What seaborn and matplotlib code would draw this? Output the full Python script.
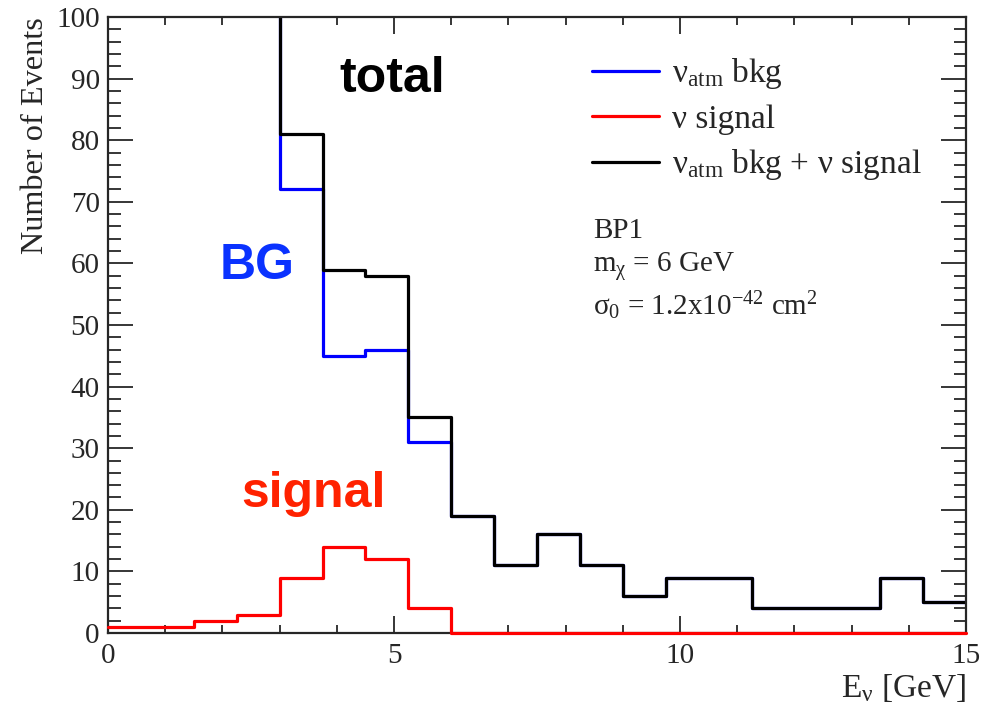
import numpy as np
import pandas as pd
import seaborn as sns
import matplotlib
matplotlib.use("Agg")
import matplotlib.pyplot as plt
from matplotlib.ticker import MultipleLocator

# Energy bins (GeV) and event counts per bin
bin_edges = [0.0, 0.75, 1.5, 2.25, 3.0, 3.75, 4.5, 5.25, 6.0, 6.75, 7.5,
             8.25, 9.0, 9.75, 10.5, 11.25, 12.0, 12.75, 13.5, 14.25, 15.0]
bkg_counts = [180, 160, 140, 120, 72, 45, 46, 31, 19, 11, 16,
              11, 6, 9, 9, 4, 4, 4, 9, 5]
signal_counts = [1, 1, 2, 3, 9, 14, 12, 4, 0, 0, 0,
                 0, 0, 0, 0, 0, 0, 0, 0, 0]
total_counts = [b + s for b, s in zip(bkg_counts, signal_counts)]

centers = [(a + b) / 2 for a, b in zip(bin_edges[:-1], bin_edges[1:])]
df = pd.DataFrame({"E": centers, "bkg": bkg_counts,
                   "sig": signal_counts, "tot": total_counts})

sns.set_style("ticks")
plt.rcParams["font.family"] = ["Liberation Serif", "DejaVu Serif"]
plt.rcParams["mathtext.fontset"] = "custom"
plt.rcParams["mathtext.rm"] = "Liberation Serif"
plt.rcParams["mathtext.it"] = "Liberation Serif:italic"
plt.rcParams["mathtext.default"] = "rm"

fig = plt.figure(figsize=(9.96, 7.07), dpi=100)
ax = fig.add_axes([108 / 996, 74 / 707, 858 / 996, 616 / 707])

lw = 2.3
sns.histplot(data=df, x="E", weights="bkg", bins=bin_edges, element="step",
             fill=False, color="#0000ff", linewidth=lw, ax=ax,
             label="ν$_{atm}$ bkg")
sns.histplot(data=df, x="E", weights="sig", bins=bin_edges, element="step",
             fill=False, color="#ff0000", linewidth=lw, ax=ax,
             label="ν signal")
sns.histplot(data=df, x="E", weights="tot", bins=bin_edges, element="step",
             fill=False, color="#000000", linewidth=lw, ax=ax,
             label="ν$_{atm}$ bkg + ν signal")

# keep the zero-level signal line visible on top of the axis
sig_line = ax.lines[1]
sig_line.set_clip_on(False)
sig_line.set_zorder(5)

ax.set_xlim(0, 15)
ax.set_ylim(0, 100)
ax.xaxis.set_major_locator(MultipleLocator(5))
ax.xaxis.set_minor_locator(MultipleLocator(1))
ax.yaxis.set_major_locator(MultipleLocator(10))
ax.yaxis.set_minor_locator(MultipleLocator(2))
ax.tick_params(which="both", direction="in", top=True, right=True,
               labelsize=21, width=1.3)
ax.tick_params(axis="x", which="major", length=12, pad=7)
ax.tick_params(axis="x", which="minor", length=6)
ax.tick_params(axis="y", which="major", length=18, pad=6)
ax.tick_params(axis="y", which="minor", length=9)
for s in ax.spines.values():
    s.set_linewidth(1.6)
    s.set_visible(True)

ax.set_xlabel("E$_{ν}$ [GeV]", fontsize=24, loc="right", labelpad=2)
ax.set_ylabel("Number of Events", fontsize=23.2, loc="top", labelpad=4)

leg = ax.legend(loc="upper left", bbox_to_anchor=(0.564, 0.936), frameon=False,
                fontsize=24, handlelength=2.0, handletextpad=0.4,
                labelspacing=0.38, borderpad=0, borderaxespad=0)

ax.text(8.48, 67.3, "BP1\nm$_{χ}$ = 6 GeV\nσ$_{0}$ = 1.2x10$^{-42}$ cm$^{2}$",
        fontsize=21, va="top", ha="left", linespacing=1.25)

bold = dict(family="Liberation Sans", fontweight="bold", fontsize=36,
            ha="center", va="center")
ax.text(4.97, 90, "total", color="black", **bold)
ax.text(2.6, 59.5, "BG", color="#0a32ff", **bold)
ax.text(3.6, 22.5, "signal", color="#ff2200", **bold)

fig.savefig("out.png", dpi=100)
